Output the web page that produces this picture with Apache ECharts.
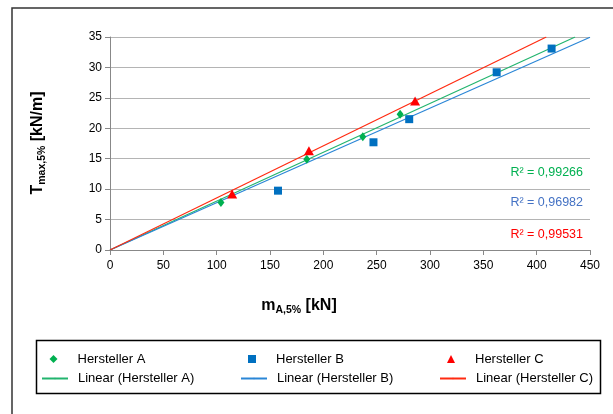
<!DOCTYPE html>
<html><head><meta charset="utf-8">
<script src="https://cdn.jsdelivr.net/npm/echarts@6/dist/echarts.min.js"></script>
<style>html,body{margin:0;padding:0;background:#fff}#c{width:613px;height:414px}</style>
</head><body><div id="c"></div>
<script>
const xTicks = [0,50,100,150,200,250,300,350,400,450];
const yTicks = [0,5,10,15,20,25,30,35];
const herstellerA = [[104,7.8],[184.5,14.9],[237,18.6],[272,22.3]];
const herstellerB = [[157.5,9.75],[247,17.7],[280.5,21.5],[362.5,29.2],[414,33.1]];
const herstellerC = [[114.5,9.2],[186.5,16.3],[286,24.5]];
const trendA = [[0,0],[436,35]];
const trendB = [[0,0],[450,34.95]];
const trendC = [[0,0],[409,35]];
const r2Labels = ['R² = 0,99266','R² = 0,96982','R² = 0,99531'];
const names = ['Hersteller A','Hersteller B','Hersteller C','Linear (Hersteller A)','Linear (Hersteller B)','Linear (Hersteller C)'];

const FONT = 'Liberation Sans, Arial, sans-serif';
const cA = '#00b050', cB = '#0070c0', cC = '#ff0000';
const lA = '#22b46e', lB = '#2a86d6', lC = '#ff2a10';

const chart = echarts.init(document.getElementById('c'), null, {renderer:'canvas'});

function mkLegend(name, left, top, isLine){
  return {
    data:[name], left:left, top:top, orient:'horizontal',
    itemWidth: isLine?26:8, itemHeight: isLine?2:8, itemGap:0, padding:0,
    selectedMode:false,
    textStyle:{fontFamily:FONT, fontSize:13, color:'#000', padding:[0,0,0, isLine?5:15]}
  };
}

chart.setOption({
  animation:false,
  textStyle:{fontFamily:FONT},
  grid:{left:110, right:23, top:37, bottom:164, containLabel:false},
  xAxis:{type:'value', min:xTicks[0], max:xTicks[xTicks.length-1], interval:50,
    axisLine:{show:true, onZero:false, lineStyle:{color:'#888', width:1}},
    axisTick:{show:true, length:5, lineStyle:{color:'#888'}},
    axisLabel:{fontFamily:FONT, fontSize:12, color:'#000', margin:10},
    splitLine:{show:false}},
  yAxis:{type:'value', min:yTicks[0], max:yTicks[yTicks.length-1], interval:5,
    axisLine:{show:true, onZero:false, lineStyle:{color:'#888', width:1}},
    axisTick:{show:true, length:5, lineStyle:{color:'#888'}},
    axisLabel:{fontFamily:FONT, fontSize:12, color:'#000', margin:8},
    splitLine:{show:true, lineStyle:{color:'#b4b4b4', width:1}}},
  legend:[
    mkLegend(names[0], 49.5, 352.5, false),
    mkLegend(names[1], 248, 352.5, false),
    mkLegend(names[2], 447, 352.5, false),
    mkLegend(names[3], 41, 372, true),
    mkLegend(names[4], 240, 372, true),
    mkLegend(names[5], 439, 372, true)
  ],
  series:[
    {name:names[3], type:'line', data:trendA, symbol:'none', lineStyle:{color:lA, width:1.2}, itemStyle:{color:lA}, z:2},
    {name:names[4], type:'line', data:trendB, symbol:'none', lineStyle:{color:lB, width:1.2}, itemStyle:{color:lB}, z:2},
    {name:names[5], type:'line', data:trendC, symbol:'none', lineStyle:{color:lC, width:1.2}, itemStyle:{color:lC}, z:2},
    {name:names[0], type:'scatter', data:herstellerA, symbol:'diamond', symbolSize:[7,9], itemStyle:{color:cA, opacity:1}, z:3},
    {name:names[1], type:'scatter', data:herstellerB, symbol:'rect', symbolSize:8, itemStyle:{color:cB, opacity:1}, z:3},
    {name:names[2], type:'scatter', data:herstellerC, symbol:'triangle', symbolSize:[10,9], itemStyle:{color:cC, opacity:1}, z:3}
  ],
  graphic:[
    {type:'polyline', shape:{points:[[12,414],[12,8],[613,8]]}, style:{stroke:'#333', lineWidth:1.5, fill:null}},
    {type:'rect', shape:{x:36.5, y:340.5, width:564, height:53}, style:{stroke:'#000', lineWidth:1.5, fill:null}},
    {type:'text', x:583, y:173, style:{text:r2Labels[0], fill:'#00b050', font:'12.5px '+FONT, align:'right', verticalAlign:'middle'}},
    {type:'text', x:583, y:203, style:{text:r2Labels[1], fill:'#4472c4', font:'12.5px '+FONT, align:'right', verticalAlign:'middle'}},
    {type:'text', x:583, y:235, style:{text:r2Labels[2], fill:'#ff0000', font:'12.5px '+FONT, align:'right', verticalAlign:'middle'}},
    {type:'text', x:299, y:306, style:{
      text:'{a|m}{b|A,5%}{a| [kN]}', align:'center', verticalAlign:'middle',
      rich:{a:{fontFamily:FONT, fontSize:16, fontWeight:'bold', fill:'#000', color:'#000'},
            b:{fontFamily:FONT, fontSize:10.5, fontWeight:'bold', fill:'#000', color:'#000', padding:[9,0,0,0]}}}},
    {type:'text', x:38, y:143, rotation:Math.PI/2, style:{
      text:'{a|T}{b|max,5%}{a| [kN/m]}', align:'center', verticalAlign:'middle',
      rich:{a:{fontFamily:FONT, fontSize:16, fontWeight:'bold', fill:'#000', color:'#000'},
            b:{fontFamily:FONT, fontSize:10.5, fontWeight:'bold', fill:'#000', color:'#000', padding:[9,0,0,0]}}}}
  ]
});
</script></body></html>
